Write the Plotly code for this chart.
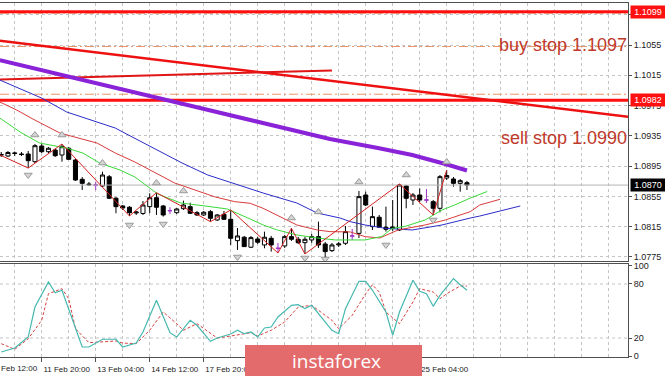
import plotly.graph_objects as go

# ---------------- data (EURUSD H4) ----------------
candle_idx = list(range(2, 72))
opens = [1.09104, 1.09084, 1.09117, 1.09110, 1.09110, 1.09009, 1.09216, 1.09141, 1.09163, 1.09097,
         1.09186, 1.09031, 1.08776, 1.08714, 1.08701, 1.08688, 1.08810, 1.08526, 1.08424, 1.08407,
         1.08331, 1.08325, 1.08415, 1.08533, 1.08424, 1.08362, 1.08335, 1.08388, 1.08415, 1.08335,
         1.08305, 1.08349, 1.08239, 1.08314, 1.08248, 1.07966, 1.08011, 1.07879, 1.07988, 1.07909,
         1.07997, 1.07865, 1.07896, 1.08019, 1.07984, 1.07939, 1.07975, 1.08019, 1.07922, 1.07834,
         1.07909, 1.07931, 1.08028, 1.08062, 1.08569, 1.08151, 1.08275, 1.08143, 1.08147, 1.08107,
         1.08688, 1.08503, 1.08569, 1.08503, 1.08481, 1.08393, 1.08793, 1.08780, 1.08723, 1.08731]
highs = [1.09137, 1.09150, 1.09143, 1.09137, 1.09150, 1.09242, 1.09242, 1.09203, 1.09180, 1.09242,
         1.09203, 1.09044, 1.08806, 1.08741, 1.08745, 1.08877, 1.08833, 1.08543, 1.08437, 1.08424,
         1.08357, 1.08489, 1.08592, 1.08599, 1.08437, 1.08407, 1.08397, 1.08494, 1.08467, 1.08357,
         1.08358, 1.08371, 1.08318, 1.08358, 1.08371, 1.08133, 1.08028, 1.08028, 1.08019, 1.08085,
         1.08028, 1.07935, 1.08041, 1.08129, 1.08015, 1.08015, 1.08054, 1.08217, 1.07949, 1.07935,
         1.07949, 1.08160, 1.08120, 1.08622, 1.08613, 1.08415, 1.08305, 1.08415, 1.08503, 1.08714,
         1.08701, 1.08595, 1.08657, 1.08648, 1.08503, 1.08833, 1.08899, 1.08807, 1.08780, 1.08754]
lows = [1.09071, 1.09071, 1.09084, 1.09084, 1.08925, 1.08991, 1.09123, 1.09123, 1.09071, 1.09009,
        1.09031, 1.08754, 1.08635, 1.08688, 1.08635, 1.08675, 1.08516, 1.08328, 1.08371, 1.08292,
        1.08305, 1.08305, 1.08328, 1.08305, 1.08283, 1.08318, 1.08318, 1.08371, 1.08318, 1.08292,
        1.08292, 1.08217, 1.08226, 1.08239, 1.07909, 1.07843, 1.07883, 1.07869, 1.07922, 1.07865,
        1.07821, 1.07803, 1.07869, 1.07962, 1.07922, 1.07790, 1.07936, 1.07869, 1.07731, 1.07816,
        1.07883, 1.07909, 1.07975, 1.08001, 1.08424, 1.08107, 1.08133, 1.08085, 1.08094, 1.08094,
        1.08393, 1.08437, 1.08477, 1.08463, 1.08305, 1.08340, 1.08767, 1.08679, 1.08613, 1.08635]
closes = [1.09097, 1.09130, 1.09123, 1.09104, 1.09022, 1.09220, 1.09141, 1.09186, 1.09088, 1.09207,
          1.09040, 1.08767, 1.08723, 1.08705, 1.08701, 1.08833, 1.08526, 1.08415, 1.08397, 1.08335,
          1.08344, 1.08437, 1.08533, 1.08407, 1.08305, 1.08362, 1.08384, 1.08437, 1.08327, 1.08305,
          1.08341, 1.08261, 1.08305, 1.08248, 1.07997, 1.08028, 1.07887, 1.08006, 1.07945, 1.08011,
          1.07909, 1.07865, 1.08019, 1.07984, 1.07939, 1.07984, 1.08019, 1.07909, 1.07821, 1.07909,
          1.07922, 1.08085, 1.08028, 1.08547, 1.08437, 1.08283, 1.08143, 1.08116, 1.08127, 1.08701,
          1.08525, 1.08569, 1.08503, 1.08503, 1.08393, 1.08811, 1.08826, 1.08723, 1.08758, 1.08700]
neutral_idx = [16, 27, 43, 54, 65]

# Alligator + long MA (sampled along the curves)
lips_idx = [1.8, 4.8, 7.7, 11.7, 14.1, 16.6, 19.6, 21.8, 25.2, 28.6, 32.2, 35.5, 38.9, 40.8, 42.9,
            45.8, 48.8, 51.5, 55.9, 58.4, 59.9, 61.8, 64.8, 67.3, 69.2, 71.5, 74.0]
lips_val = [1.09585, 1.09401, 1.09255, 1.09189, 1.09123, 1.08991, 1.08899, 1.08807, 1.08582, 1.08463,
            1.08424, 1.08384, 1.08252, 1.08173, 1.08107, 1.08041, 1.08001, 1.07975, 1.07975, 1.08021,
            1.08127, 1.08153, 1.08239, 1.08371, 1.08437, 1.08529, 1.08615]
teeth_idx = [1.8, 4.3, 6.7, 9.2, 10.7, 16.2, 18.9, 21.8, 24.8, 27.7, 30.7, 33.7, 36.6, 38.9, 40.8,
             42.9, 45.8, 48.8, 50.7, 53.7, 55.9, 58.1, 60.8, 64.8, 67.8, 71.5, 72.9, 75.9]
teeth_val = [1.09797, 1.09691, 1.09572, 1.09453, 1.09387, 1.09255, 1.09123, 1.09005, 1.08859, 1.08727,
             1.08635, 1.08543, 1.08481, 1.08459, 1.08393, 1.08305, 1.08173, 1.08107, 1.08085, 1.08081,
             1.08019, 1.08001, 1.08107, 1.08173, 1.08239, 1.08349, 1.08437, 1.08512]
jaw_idx = [1.8, 8.0, 11.7, 18.9, 20.0, 25.2, 28.8, 32.6, 36.3, 40.8, 45.8, 48.8, 52.2, 53.7, 55.9,
           58.9, 62.9, 67.3, 71.5, 72.9, 78.9]
jaw_val = [1.10087, 1.09849, 1.09665, 1.09453, 1.09401, 1.09163, 1.08991, 1.08833, 1.08727, 1.08595,
           1.08463, 1.08331, 1.08265, 1.08217, 1.08173, 1.08129, 1.08107, 1.08173, 1.08265, 1.08291,
           1.08424]
ma_long_idx = [1.8, 26.6, 38.9, 50.7, 57.8, 62.9, 67.8, 71.0]
ma_long_val = [1.10351, 1.09823, 1.09559, 1.09308, 1.09189, 1.09097, 1.08978, 1.08892]

# ZigZag
zz_idx = [0, 6, 11, 21, 25, 33, 36, 43, 45, 47, 61, 66, 68]
zz_val = [1.09172, 1.08925, 1.09242, 1.08292, 1.08599, 1.08217, 1.08371, 1.07803, 1.08129, 1.07790,
          1.08714, 1.08305, 1.08899]

# Fractals
frac_up_idx = [7, 11, 17, 25, 29, 45, 49, 55, 62, 68]
frac_up_val = [1.09361, 1.09361, 1.08991, 1.08727, 1.08622, 1.08265, 1.08345, 1.08741, 1.08833, 1.09005]
frac_dn_idx = [6, 21, 26, 37, 47, 50, 59, 66]
frac_dn_val = [1.08833, 1.08173, 1.08186, 1.07750, 1.07737, 1.07724, 1.07909, 1.08239]

# Drawn objects
trend_down_idx = [1, 96]
trend_down_val = [1.10616, 1.09591]
trend_up_idx = [1, 51]
trend_up_val = [1.10093, 1.10213]
red_levels = [1.1099, 1.0982]
order_levels = [1.1097, 1.1053, 1.0990]
last_price = 1.0870

# Stochastic
stoch_main_idx = [2, 4, 6, 7, 9, 10, 11, 14, 15, 17, 19, 20, 22, 23, 25, 27, 28, 30, 31, 33, 34, 36,
                  37, 38, 39, 40, 41, 42, 43, 45, 46, 47, 48, 49, 51, 52, 53, 55, 56, 57, 59, 60, 61,
                  63, 64, 65, 66, 67, 69, 70, 71]
stoch_main_val = [4.4, 8.9, 21.1, 54.4, 82.2, 70.3, 73.0, 10.0, 10.0, 18.6, 18.6, 10.0, 14.4, 26.7,
                  61.9, 25.9, 21.1, 39.7, 34.1, 16.3, 20.0, 24.4, 28.6, 24.8, 26.7, 21.1, 31.1, 32.2,
                  43.3, 56.3, 57.0, 52.6, 56.3, 47.0, 28.6, 24.8, 52.6, 83.0, 83.0, 73.0, 48.9, 23.0,
                  48.9, 84.1, 71.9, 69.2, 55.2, 67.4, 85.9, 79.2, 73.0]
stoch_sig_idx = [2, 4, 6, 8, 9, 11, 12, 13, 15, 17, 19, 20, 22, 24, 26, 28, 29, 31, 32, 34, 36, 39,
                 40, 42, 44, 46, 48, 49, 51, 52, 54, 56, 57, 58, 59, 61, 63, 64, 66, 67, 68, 70, 71]
stoch_sig_val = [13.7, 7.4, 19.2, 39.7, 69.2, 74.8, 63.7, 30.3, 14.8, 15.6, 16.7, 14.4, 13.7, 28.6,
                 48.9, 35.9, 28.6, 35.9, 30.3, 20.0, 22.2, 25.9, 22.2, 28.6, 37.8, 54.4, 56.3, 50.8,
                 39.7, 30.3, 45.2, 69.2, 79.2, 71.1, 48.9, 35.9, 60.0, 74.8, 71.1, 63.7, 69.2, 77.8,
                 77.8]
stoch_levels = [20, 80]

price_ticks = [1.0775, 1.0815, 1.0855, 1.0895, 1.0935, 1.0975, 1.1015, 1.1055, 1.1095]
stoch_ticks = [0, 20, 80, 100]
time_tick_idx = [8, 16, 24, 32, 40, 48, 56, 64]
time_tick_labels = ["11 Feb 20:00", "13 Feb 04:00", "14 Feb 12:00", "17 Feb 20:00",
                    "19 Feb 04:00", "20 Feb 12:00", "21 Feb 20:00", "25 Feb 04:00"]
first_time_label = "10 Feb 12:00"

# ---------------- figure ----------------
X_RANGE = [1.82, 94.86]
FONT = "Liberation Sans, Arial, sans-serif"
GRID = "#c4c4c4"

fig = go.Figure()
mx = dict(xaxis="x", yaxis="y", showlegend=False, hoverinfo="skip")

# levels
for lv in order_levels:
    fig.add_trace(go.Scatter(x=X_RANGE, y=[lv, lv], mode="lines",
                             line=dict(color="#e8956a", width=1, dash="9px,3px,2px,3px"), **mx))
fig.add_trace(go.Scatter(x=X_RANGE, y=[last_price, last_price], mode="lines",
                         line=dict(color="#b4b4b4", width=1), **mx))
for lv in red_levels:
    fig.add_trace(go.Scatter(x=X_RANGE, y=[lv, lv], mode="lines",
                             line=dict(color="#ff1010", width=3), **mx))
fig.add_trace(go.Scatter(x=trend_down_idx, y=trend_down_val, mode="lines",
                         line=dict(color="#ee1111", width=2.5), **mx))
fig.add_trace(go.Scatter(x=trend_up_idx, y=trend_up_val, mode="lines",
                         line=dict(color="#e01515", width=2), **mx))

# moving averages
fig.add_trace(go.Scatter(x=jaw_idx, y=jaw_val, mode="lines", line=dict(color="#2b2bc8", width=1), **mx))
fig.add_trace(go.Scatter(x=teeth_idx, y=teeth_val, mode="lines", line=dict(color="#d83a3a", width=1), **mx))
fig.add_trace(go.Scatter(x=lips_idx, y=lips_val, mode="lines", line=dict(color="#3ad83a", width=1), **mx))
fig.add_trace(go.Scatter(x=ma_long_idx, y=ma_long_val, mode="lines", line=dict(color="#8a22d8", width=4), **mx))
fig.add_trace(go.Scatter(x=zz_idx, y=zz_val, mode="lines", line=dict(color="#d42020", width=1), **mx))

# candles
main_sel = [k for k, i in enumerate(candle_idx) if i not in neutral_idx]
neu_sel = [k for k, i in enumerate(candle_idx) if i in neutral_idx]
fig.add_trace(go.Candlestick(
    x=[candle_idx[k] for k in main_sel], open=[opens[k] for k in main_sel],
    high=[highs[k] for k in main_sel], low=[lows[k] for k in main_sel],
    close=[closes[k] for k in main_sel],
    increasing=dict(fillcolor="white", line=dict(color="black", width=1)),
    decreasing=dict(fillcolor="black", line=dict(color="black", width=1)),
    whiskerwidth=0, **mx))
fig.add_trace(go.Candlestick(
    x=[candle_idx[k] for k in neu_sel], open=[opens[k] for k in neu_sel],
    high=[highs[k] for k in neu_sel], low=[lows[k] for k in neu_sel],
    close=[closes[k] for k in neu_sel],
    increasing=dict(fillcolor="#a030c8", line=dict(color="#a030c8", width=1)),
    decreasing=dict(fillcolor="#a030c8", line=dict(color="#a030c8", width=1)),
    whiskerwidth=0, **mx))

# fractals
fig.add_trace(go.Scatter(x=frac_up_idx, y=frac_up_val, mode="markers",
                         marker=dict(symbol="triangle-up", size=7, color="#d4d4d4",
                                     line=dict(color="#9a9a9a", width=1)), **mx))
fig.add_trace(go.Scatter(x=frac_dn_idx, y=frac_dn_val, mode="markers",
                         marker=dict(symbol="triangle-down", size=7, color="#d4d4d4",
                                     line=dict(color="#9a9a9a", width=1)), **mx))

# stochastic
sx = dict(xaxis="x2", yaxis="y2", showlegend=False, hoverinfo="skip")
for lv in stoch_levels:
    fig.add_trace(go.Scatter(x=X_RANGE, y=[lv, lv], mode="lines",
                             line=dict(color=GRID, width=1, dash="3px,3px"), **sx))
fig.add_trace(go.Scatter(x=stoch_sig_idx, y=stoch_sig_val, mode="lines",
                         line=dict(color="#d84040", width=1, dash="3px,2px"), **sx))
fig.add_trace(go.Scatter(x=stoch_main_idx, y=stoch_main_val, mode="lines",
                         line=dict(color="#45b8ae", width=1.2), **sx))

axis_common = dict(range=X_RANGE, showline=True, mirror=True, linecolor="#505050", linewidth=1,
                   showgrid=True, gridcolor=GRID, griddash="3px,3px", zeroline=False,
                   minor=dict(dtick=4, tick0=0, showgrid=True, gridcolor=GRID, griddash="3px,3px"),
                   tickmode="array", tickvals=time_tick_idx)

fig.update_layout(
    width=665, height=376, margin=dict(l=0, r=37, t=3, b=19),
    paper_bgcolor="white", plot_bgcolor="white", showlegend=False,
    boxgap=0.2, boxgroupgap=0.25,
    font=dict(family=FONT, size=9, color="#222222"),
    xaxis=dict(domain=[0, 1], anchor="y", showticklabels=False, ticks="",
               rangeslider=dict(visible=False), **axis_common),
    yaxis=dict(domain=[0.2698, 1], anchor="x", side="right", range=[1.076906, 1.111049],
               tickmode="array", tickvals=price_ticks, tickformat=".4f",
               showgrid=True, gridcolor=GRID, griddash="3px,3px", zeroline=False,
               showline=True, linecolor="#505050", linewidth=1, ticks="outside", ticklen=3,
               tickcolor="#505050", tickfont=dict(size=9, family=FONT, color="#222")),
    xaxis2=dict(domain=[0, 1], anchor="y2", ticktext=time_tick_labels, ticks="outside",
                ticklen=4, tickcolor="#505050", ticklabelshift=25,
                tickfont=dict(size=8, family=FONT, color="#222"),
                rangeslider=dict(visible=False), **axis_common),
    yaxis2=dict(domain=[0, 0.2627], anchor="x2", side="right", range=[-1.1, 102.2],
                tickmode="array", tickvals=stoch_ticks, showgrid=False, zeroline=False,
                showline=True, linecolor="#505050", linewidth=1, ticks="outside", ticklen=3,
                tickcolor="#505050", tickfont=dict(size=9, family=FONT, color="#222")),
)

annotations = []
# price boxes
for val, bg in [(red_levels[0], "#ff1010"), (red_levels[1], "#ff1010"), (last_price, "#000000")]:
    annotations.append(dict(xref="paper", x=1, xanchor="left", xshift=2, yref="y", y=val,
                            yanchor="middle", text=f"{val:.4f}", showarrow=False, bgcolor=bg,
                            borderpad=1, width=32, font=dict(color="white", size=9, family=FONT)))
annotations.append(dict(xref="x", x=75.45, yref="y", y=1.1055, xanchor="left", yanchor="middle",
                        text="buy stop 1.1097", showarrow=False,
                        font=dict(color="#c0392b", size=18, family=FONT)))
annotations.append(dict(xref="x", x=75.75, yref="y", y=1.09322, xanchor="left", yanchor="middle",
                        text="sell stop 1.0990", showarrow=False,
                        font=dict(color="#c0392b", size=18, family=FONT)))
annotations.append(dict(xref="paper", x=-0.0196, xanchor="left", yref="paper", y=0, yanchor="top",
                        yshift=-5, text=first_time_label, showarrow=False,
                        font=dict(color="#222", size=8, family=FONT)))
annotations.append(dict(xref="paper", x=290 / 628, xanchor="left", yref="paper", y=-0.0113,
                        yanchor="middle", text="instaforex", showarrow=False,
                        font=dict(color="white", size=19, family="Open Sans, sans-serif")))
fig.update_layout(annotations=annotations)

fig.add_shape(type="rect", xref="paper", yref="paper", x0=245 / 628, x1=422 / 628,
              y0=-0.06, y1=(357 - 345) / 354, fillcolor="#e36b6b", line=dict(width=0),
              layer="above")

fig.write_html("out.html", config={"displayModeBar": False},
               post_script="document.body.style.margin='0px';")
